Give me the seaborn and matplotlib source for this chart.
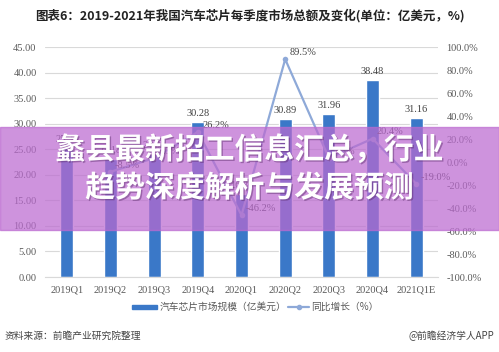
import numpy as np
import pandas as pd
import matplotlib.pyplot as plt
import seaborn as sns
from matplotlib.patches import Rectangle
import matplotlib.patheffects as pe

sns.set_style('white')
plt.rcParams['font.family'] = ['Liberation Serif', 'Noto Sans CJK SC', 'DejaVu Sans']

quarters = ['2019Q1', '2019Q2', '2019Q3', '2019Q4', '2020Q1',
            '2020Q2', '2020Q3', '2020Q4', '2021Q1E']
market = [25.33, 23.18, 24.00, 30.28, 16.30, 30.89, 31.96, 38.48, 31.16]
growth = [np.nan, -8.5, 3.5, 26.2, -46.2, 89.5, 3.5, 20.4, -19.0]

df = pd.DataFrame({'quarter': quarters, 'market': market, 'growth': growth})
df['pos'] = range(len(df))

fig = plt.figure(figsize=(4.99, 3.52), dpi=100)
ax = fig.add_axes([0.09, 0.213, 0.788, 0.653])

bar_color = '#3a78c8'
line_color = '#8ea9d8'
tick_color = '#595959'

sns.barplot(data=df, x='quarter', y='market', color=bar_color, width=0.3,
            saturation=1, ax=ax, zorder=2)
ax.set_ylim(0, 45)
ax.set_yticks(np.arange(0, 46, 5))
ax.set_yticklabels([f'{v:.2f}' for v in np.arange(0, 46, 5)])
ax.grid(axis='y', color='#d9d9d9', linewidth=0.8, zorder=0)
ax.set_xlabel('')
ax.set_ylabel('')
ax.tick_params(axis='both', length=0, labelsize=7.5, colors=tick_color, pad=6)
for s in ['top', 'right', 'left']:
    ax.spines[s].set_visible(False)
ax.spines['bottom'].set_color('#d9d9d9')
for i, v in enumerate(market):
    ax.text(i, v + 0.8, f'{v:.2f}', ha='center', va='bottom', fontsize=7.5, color='#404040')

ax2 = ax.twinx()
sns.lineplot(data=df, x='pos', y='growth', color=line_color, marker='o', markersize=4,
             markeredgewidth=0, linewidth=1.6, ax=ax2, zorder=3)
ax2.set_ylim(-100, 100)
ax2.set_yticks(np.arange(-100, 101, 20))
ax2.set_yticklabels([f'{v:.1f}%' for v in np.arange(-100, 101, 20)])
ax2.set_ylabel('')
ax2.set_xlabel('')
ax2.tick_params(axis='y', length=0, labelsize=7.5, colors=tick_color, pad=6)
for s in ax2.spines.values():
    s.set_visible(False)
for i, g in enumerate(growth):
    if not np.isnan(g):
        ax2.text(i + 0.1, g + 2, f'{g:.1f}%', ha='left', va='bottom', fontsize=7.5, color='#404040')
ax.set_xlim(-0.5, len(quarters) - 0.5)

# title
fig.text(0.5, 0.955, '图表6：2019-2021年我国汽车芯片每季度市场总额及变化(单位：亿美元，%)',
         ha='center', va='center', fontsize=9, fontweight='bold', color='#222222',
         family=['Noto Sans CJK SC'])

# legend
fig.patches.append(Rectangle((0.265, 0.122), 0.05, 0.012, transform=fig.transFigure,
                             color=bar_color, figure=fig))
fig.text(0.32, 0.128, '汽车芯片市场规模（亿美元）', ha='left', va='center', fontsize=7,
         color=tick_color, family=['Noto Sans CJK SC'])
leg_line = plt.Line2D([0.578, 0.599, 0.62], [0.128, 0.128, 0.128], transform=fig.transFigure,
                      color=line_color, linewidth=1.6, marker='o', markersize=3,
                      markevery=[1], figure=fig)
fig.lines.append(leg_line)
fig.text(0.623, 0.128, '同比增长（%）', ha='left', va='center', fontsize=7,
         color=tick_color, family=['Noto Sans CJK SC'])

# footer
fig.text(0.01, 0.045, '资料来源：前瞻产业研究院整理', ha='left', va='center', fontsize=7,
         color='#444444', family=['Noto Sans CJK SC'])
fig.text(0.99, 0.045, '@前瞻经济学人APP', ha='right', va='center', fontsize=7,
         color='#444444', family=['Noto Sans CJK SC'])

# overlay banner
fig.patches.append(Rectangle((0, 1 - 230 / 352), 1, 103 / 352, transform=fig.transFigure,
                             color='#bb6ad0', alpha=0.72, figure=fig, zorder=10))
shadow = [pe.withSimplePatchShadow(offset=(1, -1), shadow_rgbFace='#5a2a6a', alpha=0.45)]
fig.text(0.5, 1 - 150 / 352, '蠡县最新招工信息汇总，行业', ha='center', va='center',
         fontsize=21.5, fontweight='bold', color='white', family=['Noto Sans CJK SC'],
         zorder=11, path_effects=shadow)
fig.text(0.5, 1 - 188 / 352, '趋势深度解析与发展预测', ha='center', va='center',
         fontsize=21.5, fontweight='bold', color='white', family=['Noto Sans CJK SC'],
         zorder=11, path_effects=shadow)

plt.savefig('out.png', dpi=100)
